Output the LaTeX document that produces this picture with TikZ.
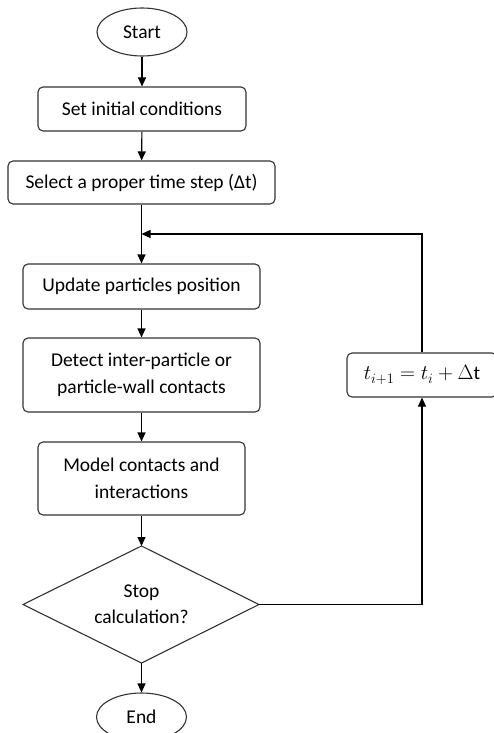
\documentclass[tikz,border=0pt]{standalone}
\usepackage{fontspec}
\setmainfont{Carlito}
\usetikzlibrary{shapes.geometric,arrows.meta}
\begin{document}
\begin{tikzpicture}[x=1pt,y=-1pt,
  font=\fontsize{19.5}{24}\selectfont,
  every node/.style={inner sep=0pt, align=center, text=black},
  term/.style={draw=black!80, line width=1.1pt, ellipse, minimum width=90pt, minimum height=48pt},
  proc/.style={draw=black!80, line width=1.1pt, rounded corners=5pt, rectangle},
  conn/.style={draw=black, line width=1.1pt},
  arr/.style={conn, -{Triangle[length=9pt,width=8pt]}}]
\clip (0,0) rectangle (494,733);
\node[term] (start) at (142,32) {Start};
\node[proc, minimum width=208pt, minimum height=44pt] (init) at (142,109) {Set initial conditions};
\node[proc, minimum width=267pt, minimum height=43pt] (dt) at (141.5,182.5) {Select a proper time step (Δt)};
\node[proc, minimum width=237pt, minimum height=45pt] (upd) at (141.5,286.5) {Update particles position};
\node[proc, minimum width=237pt, minimum height=74pt] (det) at (141.5,375) {Detect inter-particle or\\[3pt]particle-wall contacts};
\node[proc, minimum width=207pt, minimum height=73pt] (mod) at (141.5,478.5) {Model contacts and\\[3pt]interactions};
\path[draw=black!80, line width=1.1pt] (23,604.5) coordinate (dl) -- (141.5,546) coordinate (dtop) -- (259,604.5) coordinate (dr) -- (141.5,663) coordinate (dbot) -- cycle;
\node (stop) at (141.5,604.5) {Stop\\[2pt]calculation?};
\node[term] (end) at (141.5,717) {End};
\node[proc, minimum width=150pt, minimum height=44pt] (tb) at (422,375) {$t_{i+1} = t_i + \Delta\mathrm{t}$};
\coordinate (merge) at (141.5,234);
\coordinate (corner1) at (422,604.5);
\coordinate (corner2) at (422,234);
\draw[arr] (start) -- (init);
\draw[arr] (init) -- (dt);
\draw[arr] (dt) -- (upd);
\draw[arr] (upd) -- (det);
\draw[arr] (det) -- (mod);
\draw[arr] (mod.south) -- (dtop);
\draw[arr] (dbot) -- (end);
\draw[arr] (dr) -- (corner1) -- (tb.south);
\draw[arr] (tb.north) -- (corner2) -- (merge);
\end{tikzpicture}
\end{document}
